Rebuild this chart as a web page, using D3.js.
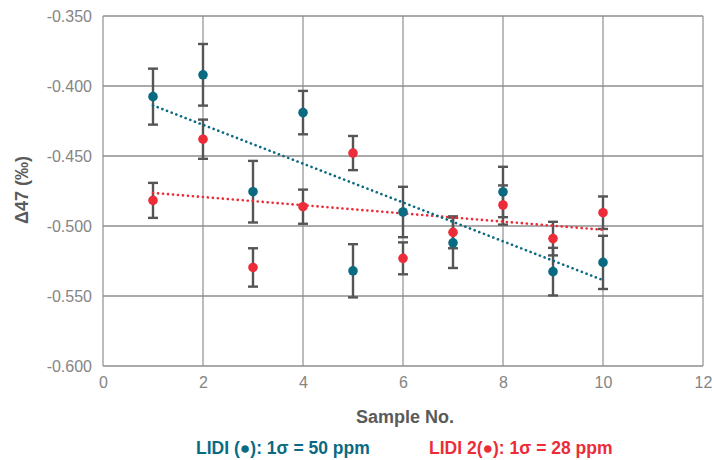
<!DOCTYPE html>
<html>
<head>
<meta charset="utf-8">
<script src="https://cdn.jsdelivr.net/npm/d3@7"></script>
<style>
  body { margin: 0; background: #fff; }
  svg { font-family: "Liberation Sans", Arial, sans-serif; }
</style>
</head>
<body>
<svg class="chart" width="712" height="460"></svg>
<script>
// sample numbers
const samples = [1, 2, 3, 4, 5, 6, 7, 8, 9, 10]

// LIDI (blue) values and 1 sigma
const lidiValues = [-0.4076, -0.392, -0.4755, -0.419, -0.532, -0.490, -0.512, -0.4757, -0.5326, -0.526]
const lidiErrors = [0.020, 0.022, 0.022, 0.0155, 0.019, 0.018, 0.018, 0.018, 0.017, 0.019]

// LIDI 2 (red) values and 1 sigma
const lidi2Values = [-0.4817, -0.438, -0.5296, -0.4862, -0.4479, -0.5231, -0.5045, -0.485, -0.509, -0.4905]
const lidi2Errors = [0.0125, 0.014, 0.0137, 0.0122, 0.0122, 0.0114, 0.0114, 0.014, 0.012, 0.0116]

const xTicks = [0, 2, 4, 6, 8, 10, 12]
const yTicks = [-0.35, -0.4, -0.45, -0.5, -0.55, -0.6]

const blue = "#0a6a82"
const red = "#ec2c38"

const svg = d3.select("svg.chart")

const margin = {left: 103, right: 9, top: 16, bottom: 94}
const width = 712 - margin.left - margin.right
const height = 460 - margin.top - margin.bottom

const x = d3.scaleLinear().domain([0, 12]).range([margin.left, margin.left + width])
const y = d3.scaleLinear().domain([-0.6, -0.35]).range([margin.top + height, margin.top])

// grid
const grid = svg.append("g")
grid.selectAll("line.v")
    .data(xTicks)
    .enter()
    .append("line")
    .attr("x1", d => x(d)).attr("x2", d => x(d))
    .attr("y1", y(-0.35)).attr("y2", y(-0.6))
    .attr("stroke", "#a0a0a0")
    .attr("stroke-width", 1.4)
grid.selectAll("line.h")
    .data(yTicks)
    .enter()
    .append("line")
    .attr("x1", x(0)).attr("x2", x(12))
    .attr("y1", d => y(d)).attr("y2", d => y(d))
    .attr("stroke", "#8e8e8e")
    .attr("stroke-width", 1.4)

// axes (labels only, lines come from grid)
const fmt = d3.format(".3f")
const xAxis = svg.append("g")
    .attr("transform", `translate(0,${y(-0.6)})`)
    .call(d3.axisBottom(x).tickValues(xTicks).tickSize(0).tickPadding(11))
const yAxis = svg.append("g")
    .attr("transform", `translate(${x(0)},0)`)
    .call(d3.axisLeft(y).tickValues(yTicks).tickSize(0).tickPadding(11)
        .tickFormat(d => fmt(d).replace("−", "-")))
;[xAxis, yAxis].forEach(a => {
    a.select(".domain").remove()
    a.selectAll("text")
        .style("font-size", "16px")
        .attr("fill", "#858585")
})
yAxis.selectAll("text").attr("dy", "0.35em")

// axis titles
svg.append("text")
    .attr("transform", `translate(28,190) rotate(-90)`)
    .attr("text-anchor", "middle")
    .style("font-size", "18px")
    .style("font-weight", "bold")
    .attr("fill", "#5a5a5a")
    .text("Δ47 (‰)")

svg.append("text")
    .attr("x", 405)
    .attr("y", 423)
    .attr("text-anchor", "middle")
    .style("font-size", "18px")
    .style("font-weight", "bold")
    .attr("fill", "#5a5a5a")
    .text("Sample No.")

// legend
svg.append("text")
    .attr("x", 196).attr("y", 454)
    .style("font-size", "17.5px").style("font-weight", "bold")
    .attr("fill", blue)
    .text("LIDI (●): 1σ = 50 ppm")
svg.append("text")
    .attr("x", 429).attr("y", 454)
    .style("font-size", "17.5px").style("font-weight", "bold")
    .attr("fill", red)
    .text("LIDI 2(●): 1σ = 28 ppm")

// linear regression for trend lines
function fit(xs, ys) {
    const mx = d3.mean(xs), my = d3.mean(ys)
    const num = d3.sum(xs, (d, i) => (d - mx) * (ys[i] - my))
    const den = d3.sum(xs, d => (d - mx) * (d - mx))
    const slope = num / den
    return v => my + slope * (v - mx)
}

const series = [
    {values: lidi2Values, errors: lidi2Errors, color: red},
    {values: lidiValues, errors: lidiErrors, color: blue}
]

const line = d3.line().x(d => x(d[0])).y(d => y(d[1]))

series.forEach(s => {
    const g = svg.append("g")
    const pts = samples.map((d, i) => ({x: d, v: s.values[i], e: s.errors[i]}))

    // error bars
    g.selectAll("line.err")
        .data(pts)
        .enter()
        .append("line")
        .attr("x1", d => x(d.x)).attr("x2", d => x(d.x))
        .attr("y1", d => y(d.v + d.e)).attr("y2", d => y(d.v - d.e))
        .attr("stroke", "#555")
        .attr("stroke-width", 2.4)
    ;["top", "bottom"].forEach(side => {
        g.selectAll("line.cap-" + side)
            .data(pts)
            .enter()
            .append("line")
            .attr("x1", d => x(d.x) - 5).attr("x2", d => x(d.x) + 5)
            .attr("y1", d => y(side == "top" ? d.v + d.e : d.v - d.e))
            .attr("y2", d => y(side == "top" ? d.v + d.e : d.v - d.e))
            .attr("stroke", "#555")
            .attr("stroke-width", 2.4)
    })
})

series.forEach(s => {
    const f = fit(samples, s.values)
    const first = samples[0], last = samples[samples.length - 1]
    svg.append("path")
        .attr("d", line([[first, f(first)], [last, f(last)]]))
        .attr("fill", "none")
        .attr("stroke", s.color)
        .attr("stroke-width", 2.6)
        .attr("stroke-linecap", "round")
        .attr("stroke-dasharray", "0.1 4.9")
})

series.forEach(s => {
    svg.append("g")
        .selectAll("circle")
        .data(samples)
        .enter()
        .append("circle")
        .attr("cx", d => x(d))
        .attr("cy", (d, i) => y(s.values[i]))
        .attr("r", 4.8)
        .attr("fill", s.color)
})
</script>
</body>
</html>
